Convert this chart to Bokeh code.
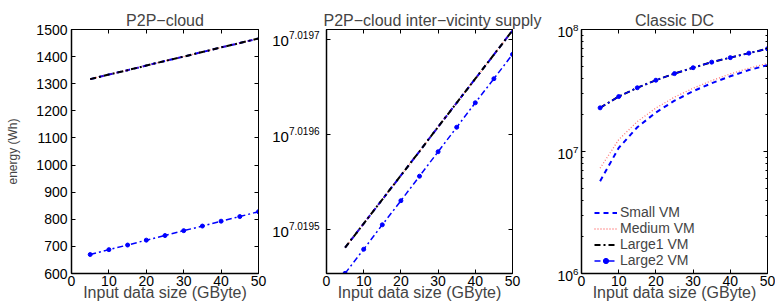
from bokeh.plotting import figure
from bokeh.layouts import row
from bokeh.models import (Range1d, FixedTicker, LinearAxis, LogAxis,
                          CustomJSTickFormatter, LogTickFormatter)
from bokeh.core.properties import value
from bokeh.embed import file_html
from bokeh.resources import INLINE

# ---------------- data ----------------
x_gb = [5, 10, 15, 20, 25, 30, 35, 40, 45, 50]

# Panel 1: P2P-cloud (Wh)
p2p_small = [1317, 1334, 1350, 1367, 1384, 1400, 1417, 1434, 1450, 1467]
p2p_medium = [1317, 1334, 1350, 1367, 1384, 1400, 1417, 1434, 1450, 1467]
p2p_large1 = [1317, 1334, 1350, 1367, 1384, 1400, 1417, 1434, 1450, 1467]
p2p_large2 = [670, 688, 705, 723, 740, 758, 775, 793, 810, 828]

# Panel 2: P2P-cloud inter-vicinty supply (Wh)
iv_small = [10458782, 10459390, 10460000, 10460610, 10461220,
            10461840, 10462450, 10463060, 10463670, 10464282]
iv_medium = [10458782, 10459390, 10460000, 10460610, 10461220,
             10461840, 10462450, 10463060, 10463670, 10464282]
iv_large1 = [10458782, 10459390, 10460000, 10460610, 10461220,
             10461840, 10462450, 10463060, 10463670, 10464282]
iv_large2 = [10458130, 10458740, 10459360, 10459970, 10460590,
             10461210, 10461830, 10462450, 10463060, 10463676]

# Panel 3: Classic DC (Wh)
dc_small = [5.71e6, 1.07e7, 1.58e7, 2.09e7, 2.61e7, 3.12e7, 3.63e7, 4.14e7, 4.65e7, 5.10e7]
dc_medium = [7.3e6, 1.25e7, 1.76e7, 2.27e7, 2.79e7, 3.30e7, 3.81e7, 4.32e7, 4.82e7, 5.28e7]
dc_large1 = [2.28e7, 2.82e7, 3.33e7, 3.84e7, 4.35e7, 4.86e7, 5.40e7, 5.88e7, 6.40e7, 6.95e7]
dc_large2 = [2.28e7, 2.82e7, 3.33e7, 3.84e7, 4.35e7, 4.86e7, 5.40e7, 5.88e7, 6.40e7, 6.95e7]

series_names = ["Small VM", "Medium VM", "Large1 VM", "Large2 VM"]
titles = ["P2P\u2212cloud", "P2P\u2212cloud inter\u2212vicinty supply", "Classic DC"]
x_label = "Input data size (GByte)"
y_label = "energy (Wh)"
x_ticks = [0, 10, 20, 30, 40, 50]
p1_y_ticks = [600, 700, 800, 900, 1000, 1100, 1200, 1300, 1400, 1500]
p2_tick_exps = ["7.0195", "7.0196", "7.0197"]
p3_tick_exps = ["6", "7", "8"]

FONT = "Liberation Sans"
TICK_FS = "14px"
H = 303
FRAME_TOP = 29
FRAME_H = 246
FRAME_BOT = H - FRAME_TOP - FRAME_H


def empty_fmt():
    return CustomJSTickFormatter(code="return '';")


def make_fig(width, left, right, title, ytype, y_range):
    p = figure(width=width, height=H, output_backend="svg", toolbar_location=None,
               x_range=Range1d(0, 50), y_range=y_range, y_axis_type=ytype,
               min_border_left=left, min_border_right=right,
               min_border_top=FRAME_TOP, min_border_bottom=FRAME_BOT,
               background_fill_color="white", border_fill_color="white")
    p.title.text = title
    p.title.text_font = FONT
    p.title.text_font_size = "16px"
    p.title.text_font_style = "normal"
    p.title.align = "center"
    p.title.standoff = 2
    p.grid.visible = False
    p.outline_line_color = "black"
    p.outline_line_width = 1
    xa = p.xaxis[0]
    ya = p.yaxis[0]
    xa.ticker = FixedTicker(ticks=x_ticks)
    xa.axis_label = x_label
    xa.axis_label_text_font = FONT
    xa.axis_label_text_font_size = "16px"
    xa.axis_label_text_font_style = "normal"
    xa.axis_label_standoff = -5
    xa.major_label_standoff = 2
    for ax in [xa, ya]:
        ax.axis_line_color = "black"
        ax.axis_line_width = 1.5
        ax.major_tick_in = 4
        ax.major_tick_out = 0
        ax.minor_tick_in = 2
        ax.minor_tick_out = 0
        ax.major_tick_line_color = "black"
        ax.major_label_text_color = "black"
        ax.major_label_text_font = FONT
        ax.major_label_text_font_size = TICK_FS
    xa.minor_tick_line_color = None
    top = LinearAxis(ticker=FixedTicker(ticks=x_ticks), formatter=empty_fmt())
    rgt = LogAxis(formatter=empty_fmt()) if ytype == "log" else LinearAxis(formatter=empty_fmt())
    for ax in [top, rgt]:
        ax.major_label_text_font_size = "0px"
        ax.major_label_standoff = 0
        ax.axis_line_color = "black"
        ax.major_tick_in = 4
        ax.major_tick_out = 0
        ax.minor_tick_in = 2
        ax.minor_tick_out = 0
        ax.minor_tick_line_color = None
    p.add_layout(top, "above")
    p.add_layout(rgt, "right")
    return p, ya, rgt


def draw_series(p, ys, legend=False):
    small, medium, large1, large2 = ys
    kw = lambda i: {"legend_label": series_names[i]} if legend else {}
    p.line(x_gb, small, line_color="#0000ff", line_width=2, line_dash="5 4", **kw(0))
    p.line(x_gb, medium, line_color="#ff0000", line_alpha=0.55, line_width=1.3,
           line_dash="1 2", **kw(1))
    p.line(x_gb, large1, line_color="black", line_width=2, line_dash="6 3 2 3", **kw(2))
    p.line(x_gb, large2, line_color="#0000ff", line_width=1.5, line_dash="6 3 2 3", **kw(3))
    p.scatter(x_gb, large2, marker="circle", size=4, fill_color="#0000ff",
              line_color="#0000ff", **kw(3))


# ---------------- panel 1 ----------------
p1, ya1, r1 = make_fig(268, 71, 10, titles[0], "linear", Range1d(600, 1500))
ya1.ticker = FixedTicker(ticks=p1_y_ticks)
r1.ticker = FixedTicker(ticks=p1_y_ticks)
ya1.minor_tick_line_color = None
ya1.major_label_standoff = 4
ya1.axis_label = y_label
ya1.axis_label_text_font = FONT
ya1.axis_label_text_font_size = "12px"
ya1.axis_label_text_font_style = "normal"
ya1.axis_label_standoff = 13
draw_series(p1, [p2p_small, p2p_medium, p2p_large1, p2p_large2])

# ---------------- panel 2 ----------------
p2_ticks = [10 ** float(e) for e in p2_tick_exps]
p2_range = Range1d(10458126, 10464307)
p2, ya2, r2 = make_fig(233, 6, 41, titles[1], "log", p2_range)
p2.title.align = "left"
p2.title.offset = -3
r2.ticker = FixedTicker(ticks=p2_ticks, minor_ticks=[])
ya2.ticker = FixedTicker(ticks=p2_ticks, minor_ticks=[])
ya2.formatter = empty_fmt()
ya2.major_label_text_font_size = "0px"
ya2.major_label_standoff = 0
ya2.minor_tick_line_color = None
draw_series(p2, [iv_small, iv_medium, iv_large1, iv_large2])

# tick labels of panel 2 (10 with raised exponent) in a strip left of it,
# sharing panel 2's y range and frame position
LAB_W = 52
lab2 = figure(width=LAB_W, height=H, output_backend="svg", toolbar_location=None,
              title=None, x_axis_location=None, y_axis_location=None,
              x_range=Range1d(0, LAB_W), y_axis_type="log", y_range=p2_range,
              min_border_left=0, min_border_right=0,
              min_border_top=FRAME_TOP, min_border_bottom=FRAME_BOT,
              outline_line_color=None,
              background_fill_color="white", border_fill_color="white")
lab2.grid.visible = False
exp_w = [10 * sum(0.278 if c == "." else 0.556 for c in e) for e in p2_tick_exps]
lab2.text(x=LAB_W - 1, y=p2_ticks, text=p2_tick_exps, text_align="right",
          text_baseline="bottom", y_offset=0, text_font=value(FONT),
          text_font_size=value("10px"), text_color="black")
lab2.text(x=[LAB_W - 1 - w for w in exp_w], y=p2_ticks, text=["10"] * len(p2_ticks),
          text_align="right", text_baseline="middle", y_offset=2,
          text_font=value(FONT), text_font_size=value("15px"), text_color="black")

# ---------------- panel 3 ----------------
p3_ticks = [10 ** float(e) for e in p3_tick_exps]
p3_minor = [m * 10 ** d for d in (6, 7) for m in range(2, 10)]
p3, ya3, r3 = make_fig(222, 28, 8, titles[2], "log", Range1d(1e6, 1e8))
r3.ticker = FixedTicker(ticks=p3_ticks, minor_ticks=p3_minor)
r3.minor_tick_line_color = "black"
ya3.ticker = FixedTicker(ticks=p3_ticks, minor_ticks=p3_minor)
ya3.formatter = LogTickFormatter()
ya3.minor_tick_line_color = "black"
ya3.major_label_standoff = 3
draw_series(p3, [dc_small, dc_medium, dc_large1, dc_large2], legend=True)

lg = p3.legend[0]
lg.location = (13, 5)
lg.border_line_color = None
lg.background_fill_alpha = 0
lg.padding = 4
lg.margin = 0
lg.spacing = -2
lg.label_height = 13
lg.glyph_height = 13
lg.glyph_width = 23
lg.label_standoff = 3
lg.label_text_font = FONT
lg.label_text_font_size = "14px"

layout = row(p1, lab2, p2, p3)
open("out.html", "w").write(file_html(layout, INLINE))
